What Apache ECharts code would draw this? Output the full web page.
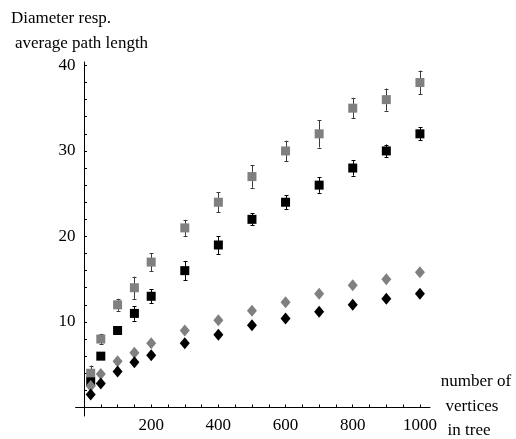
<!DOCTYPE html>
<html>
<head>
<meta charset="utf-8">
<script src="https://cdn.jsdelivr.net/npm/echarts@6/dist/echarts.min.js"></script>
<style>html,body{margin:0;padding:0;background:#fff}#c{width:516px;height:439px}</style>
</head>
<body>
<div id="c"></div>
<script>
const xValues = [20, 50, 100, 150, 200, 300, 400, 500, 600, 700, 800, 900, 1000];
const graySquare = [4, 8, 12, 14, 17, 21, 24, 27, 30, 32, 35, 36, 38];
const graySquareErr = [0.9, 0.6, 0.7, 1.3, 1.05, 0.95, 1.2, 1.3, 1.2, 1.6, 1.2, 1.3, 1.4];
const blackSquare = [3, 6, 9, 11, 13, 16, 19, 22, 24, 26, 28, 30, 32];
const blackSquareErr = [0.3, 0.3, 0.3, 0.85, 0.8, 1.1, 1.05, 0.7, 0.8, 0.9, 0.9, 0.75, 0.75];
const grayDiamond = [2.5, 3.9, 5.4, 6.4, 7.5, 9.0, 10.2, 11.3, 12.3, 13.3, 14.3, 15.0, 15.8];
const blackDiamond = [1.5, 2.8, 4.2, 5.3, 6.1, 7.5, 8.5, 9.6, 10.4, 11.2, 12.0, 12.7, 13.3];
const xTickLabels = [200, 400, 600, 800, 1000];
const xTicks = [50, 100, 150, 200, 250, 300, 350, 400, 450, 500, 550, 600, 650, 700, 750, 800, 850, 900, 950, 1000];
const yTickLabels = [10, 20, 30, 40];
const yTicks = [2, 4, 6, 8, 10, 12, 14, 16, 18, 20, 22, 24, 26, 28, 30, 32, 34, 36, 38, 40];

const FONT = '"Liberation Serif", "Times New Roman", serif';

function pts(ys) { return xValues.map((x, i) => [x, ys[i]]); }
function errData(ys, es) { return xValues.map((x, i) => [x, ys[i] - es[i], ys[i] + es[i]]); }

function errRender(color) {
  return function (params, api) {
    const lo = api.coord([api.value(0), api.value(1)]);
    const hi = api.coord([api.value(0), api.value(2)]);
    const x = Math.round(lo[0]) + 0.5;
    const cw = 2;
    const st = { stroke: color, lineWidth: 1 };
    return {
      type: 'group',
      children: [
        { type: 'line', shape: { x1: x, y1: hi[1], x2: x, y2: lo[1] }, style: st },
        { type: 'line', shape: { x1: x - cw, y1: Math.round(hi[1]) + 0.5, x2: x + cw, y2: Math.round(hi[1]) + 0.5 }, style: st },
        { type: 'line', shape: { x1: x - cw, y1: Math.round(lo[1]) + 0.5, x2: x + cw, y2: Math.round(lo[1]) + 0.5 }, style: st }
      ]
    };
  };
}

const chart = echarts.init(document.getElementById('c'), null, { renderer: 'canvas' });
chart.setOption({
  animation: false,
  backgroundColor: '#fff',
  grid: { left: 75.6, right: 86, top: 62, bottom: 23, containLabel: false },
  xAxis: {
    type: 'value', min: -25, max: 1030,
    axisLine: { show: true, onZero: true, lineStyle: { color: '#000', width: 1 } },
    axisTick: { show: true, inside: true, length: 3, customValues: xTicks, lineStyle: { color: '#000' } },
    axisLabel: { show: true, customValues: xTickLabels, margin: 1, color: '#000', fontFamily: FONT, fontSize: 17, formatter: v => String(v) },
    splitLine: { show: false }
  },
  yAxis: {
    type: 'value', min: -1, max: 40.4,
    axisLine: { show: true, onZero: true, lineStyle: { color: '#000', width: 1 } },
    axisTick: { show: true, inside: true, length: 3, customValues: yTicks, lineStyle: { color: '#000' } },
    axisLabel: { show: true, customValues: yTickLabels, margin: 0, color: '#000', fontFamily: FONT, fontSize: 17, formatter: v => String(v) },
    splitLine: { show: false }
  },
  graphic: [
    { type: 'text', left: 11, top: 10, style: { text: 'Diameter resp.', font: '17px ' + FONT, fill: '#000' } },
    { type: 'text', left: 15, top: 35, style: { text: 'average path length', font: '17px ' + FONT, fill: '#000' } },
    { type: 'text', x: 476, y: 382, style: { text: 'number of', font: '17px ' + FONT, fill: '#000', textAlign: 'center', textVerticalAlign: 'middle' } },
    { type: 'text', x: 472, y: 407, style: { text: 'vertices', font: '17px ' + FONT, fill: '#000', textAlign: 'center', textVerticalAlign: 'middle' } },
    { type: 'text', x: 469, y: 431, style: { text: 'in tree', font: '17px ' + FONT, fill: '#000', textAlign: 'center', textVerticalAlign: 'middle' } }
  ],
  series: [
    { type: 'custom', renderItem: errRender('#3a3a3a'), data: errData(graySquare, graySquareErr), z: 2, silent: true },
    { type: 'scatter', data: pts(graySquare), symbol: 'rect', symbolSize: 9, itemStyle: { color: '#808080', opacity: 1 }, z: 3 },
    { type: 'custom', renderItem: errRender('#000'), data: errData(blackSquare, blackSquareErr), z: 2, silent: true },
    { type: 'scatter', data: pts(blackSquare), symbol: 'rect', symbolSize: 9, itemStyle: { color: '#000', opacity: 1 }, z: 3 },
    { type: 'scatter', data: pts(grayDiamond), symbol: 'diamond', symbolSize: [10, 12], itemStyle: { color: '#808080', opacity: 1 }, z: 3 },
    { type: 'scatter', data: pts(blackDiamond), symbol: 'diamond', symbolSize: [10, 12], itemStyle: { color: '#000', opacity: 1 }, z: 4 }
  ]
});
</script>
</body>
</html>
